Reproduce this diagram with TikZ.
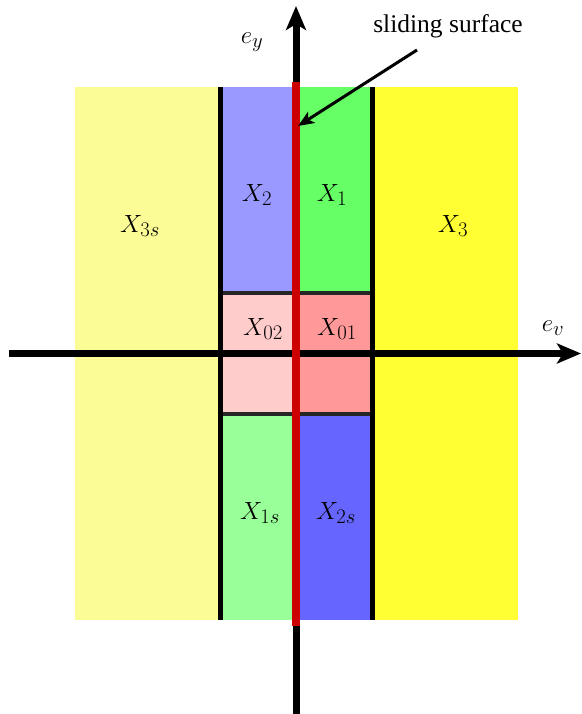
\documentclass[tikz,border=0pt]{standalone}
\usepackage{fontspec}
\newfontfamily\labelfont{Liberation Serif}
\usetikzlibrary{arrows.meta}
\definecolor{ylight}{RGB}{252,252,150}
\definecolor{ystrong}{RGB}{255,255,51}
\definecolor{bluelight}{RGB}{153,153,255}
\definecolor{bluestrong}{RGB}{102,102,255}
\definecolor{greenstrong}{RGB}{102,255,102}
\definecolor{greenlight}{RGB}{153,255,153}
\definecolor{pinklight}{RGB}{255,204,204}
\definecolor{pinkstrong}{RGB}{255,153,153}
\definecolor{slidered}{RGB}{204,0,0}
\tikzset{
  lbl/.style={font=\Huge, inner sep=0pt},
  border/.style={line width=5pt},
  divider/.style={line width=3.5pt, black!85},
  axis/.style={line width=7pt, -{Stealth[length=24pt,width=20pt,inset=6pt]}},
}
\begin{document}
\begin{tikzpicture}[x=1pt,y=-1pt]
\useasboundingbox (0,0) rectangle (581,714);
% regions
\fill[ylight] (75,87) rectangle (219,620);
\fill[bluelight] (221,87) rectangle (296,293);
\fill[greenstrong] (296,87) rectangle (372,293);
\fill[ystrong] (372,87) rectangle (518,620);
\fill[pinklight] (221,293) rectangle (296,414);
\fill[pinkstrong] (296,293) rectangle (372,414);
\fill[greenlight] (221,414) rectangle (296,620);
\fill[bluestrong] (296,414) rectangle (372,620);
% borders
\draw[divider] (221,293) -- (372,293);
\draw[divider] (221,414) -- (372,414);
\draw[border] (220.5,87) -- (220.5,620);
\draw[border] (372,87) -- (372,620);
% axes
\coordinate (xs) at (9,353.5);
\coordinate (xe) at (581,353.5);
\coordinate (ys) at (296,714);
\coordinate (ye) at (296,6);
\draw[axis] (xs) -- (xe);
\draw[axis] (ys) -- (ye);
% sliding surface
\coordinate (ss1) at (296,82);
\coordinate (ss2) at (296,626);
\draw[slidered, line width=8pt] (ss1) -- (ss2);
% labels
\node[lbl] (ey) at (252,42) {$e_y$};
\node[lbl] (ev) at (553,328) {$e_v$};
\node[lbl] (x2) at (257,195) {$X_2$};
\node[lbl] (x1) at (332,195) {$X_1$};
\node[lbl] (x3s) at (140,226) {$X_{3s}$};
\node[lbl] (x3) at (453,226) {$X_3$};
\node[lbl] (x02) at (263,329) {$X_{02}$};
\node[lbl] (x01) at (337,329) {$X_{01}$};
\node[lbl] (x1s) at (260,513) {$X_{1s}$};
\node[lbl] (x2s) at (336,513) {$X_{2s}$};
\node[lbl, font=\labelfont\fontsize{25.5}{30}\selectfont] (ss) at (448,26) {sliding surface};
\coordinate (sstip) at (298,126);
\draw[line width=3pt, -{Stealth[length=16pt,width=13pt,inset=4pt]}] (417,50) -- (sstip);
\end{tikzpicture}
\end{document}
